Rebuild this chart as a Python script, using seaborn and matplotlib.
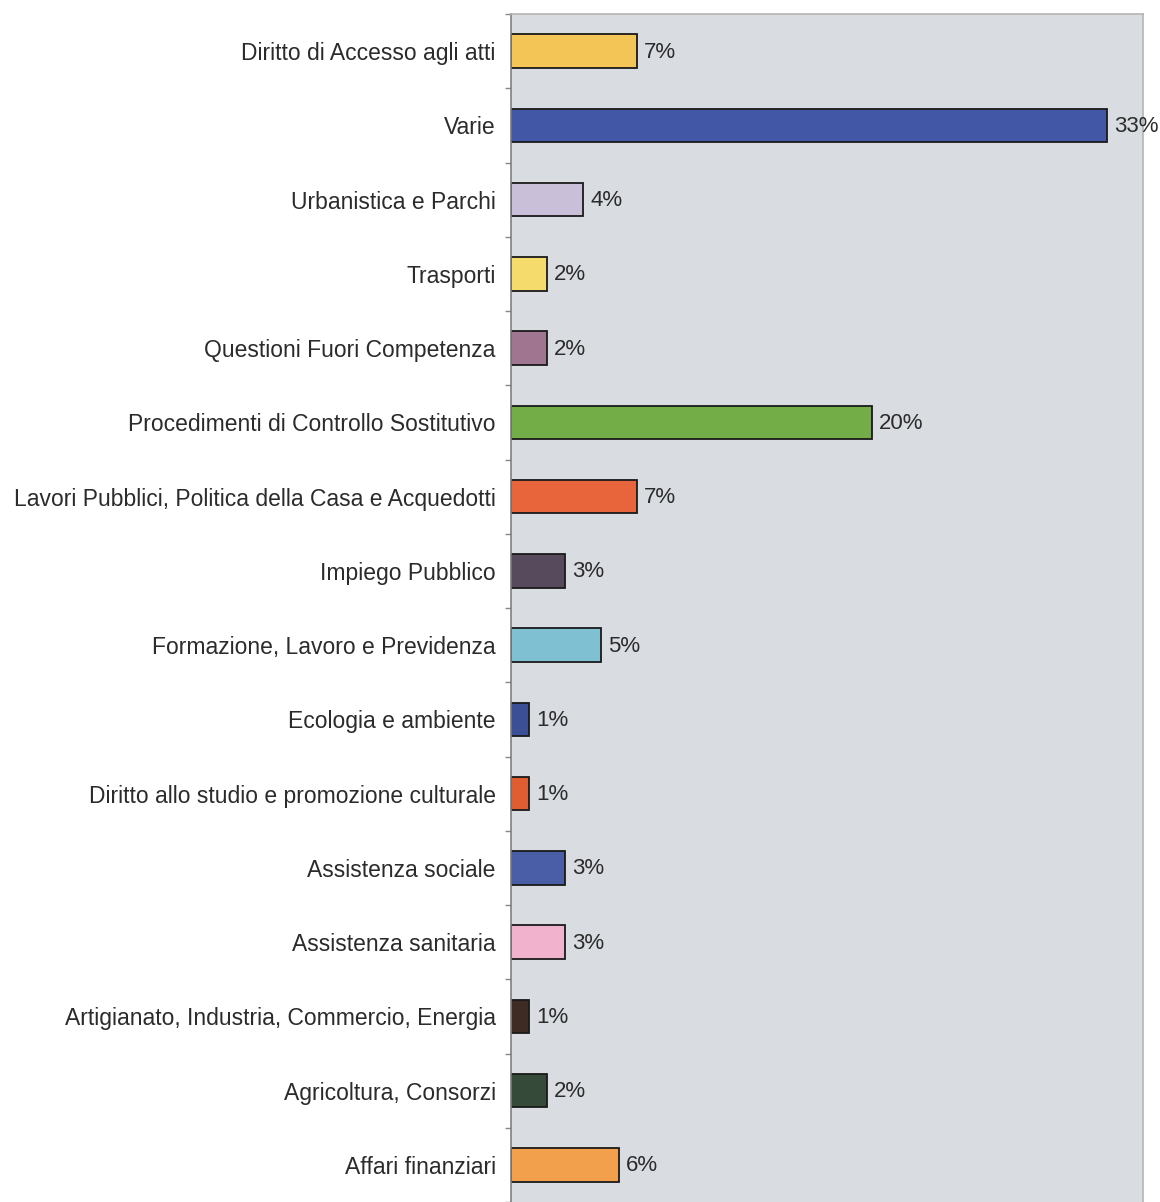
import numpy as np
import pandas as pd
import seaborn as sns
import matplotlib.pyplot as plt

# Data
categories = [
    "Diritto di Accesso agli atti",
    "Varie",
    "Urbanistica e Parchi",
    "Trasporti",
    "Questioni Fuori Competenza",
    "Procedimenti di Controllo Sostitutivo",
    "Lavori Pubblici, Politica della Casa e Acquedotti",
    "Impiego Pubblico",
    "Formazione, Lavoro e Previdenza",
    "Ecologia e ambiente",
    "Diritto allo studio e promozione culturale",
    "Assistenza sociale",
    "Assistenza sanitaria",
    "Artigianato, Industria, Commercio, Energia",
    "Agricoltura, Consorzi",
    "Affari finanziari",
]
values = [7, 33, 4, 2, 2, 20, 7, 3, 5, 1, 1, 3, 3, 1, 2, 6]
colors = [
    "#f3c456", "#4257a5", "#c9bfd9", "#f5da6c", "#9f7590", "#73ad47",
    "#e8643a", "#574a5c", "#80c0d3", "#3b4f97", "#e05c31", "#4a5ea8",
    "#f1b2cd", "#3e2b23", "#354a39", "#f3a04c",
]

df = pd.DataFrame({"categoria": categories, "valore": values})

sns.set_style("white")
plt.rcParams["font.family"] = ["Liberation Sans", "DejaVu Sans"]

fig = plt.figure(figsize=(11.6, 12.02), dpi=100)
ax = fig.add_axes([511 / 1160, 0, (1143 - 511) / 1160, (1202 - 14) / 1202])

sns.barplot(data=df, y="categoria", x="valore", hue="categoria",
            palette=colors, saturation=1, legend=False, width=0.45, orient="h",
            edgecolor="#1a1a1a", linewidth=1.3, ax=ax)

ax.set_facecolor("#d9dce1")
ax.set_xlim(0, 35)
ax.set_ylim(15.38, -0.5)
ax.set_xlabel("")
ax.set_ylabel("")
ax.set_xticks([])

# value labels
for i, v in enumerate(values):
    ax.annotate(f"{v}%", xy=(v, i), xytext=(5, 1), textcoords="offset points",
                va="center_baseline", ha="left", fontsize=16, color="#2b2b2b")

# tick marks sit between categories
ax.set_yticks(np.arange(len(categories) + 1) - 0.5, minor=True)
ax.tick_params(axis="y", which="major", length=0, pad=11,
               labelsize=16.5, labelcolor="#2b2b2b")
ax.tick_params(axis="y", which="minor", length=4, width=1,
               color="#888888", direction="out", left=True)

for side in ["top", "right"]:
    ax.spines[side].set_color("#b5b5b5")
    ax.spines[side].set_linewidth(1.2)
ax.spines["left"].set_color("#808080")
ax.spines["left"].set_linewidth(1.2)
ax.spines["bottom"].set_visible(False)

fig.savefig("out.png", dpi=100)
